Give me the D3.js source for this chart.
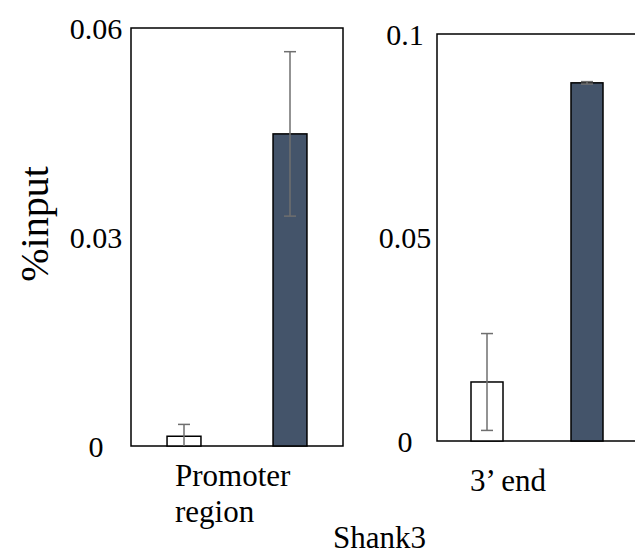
<!DOCTYPE html>
<html><head><meta charset="utf-8">
<script src="https://cdn.jsdelivr.net/npm/d3@7"></script>
<style>body{margin:0;background:#fff}</style>
</head><body><svg id="c" width="635" height="556"></svg>
<script>
const regions = ["Promoter region", "3’ end"];
const groups = ["control", "treated"];
const promoterMeans = [0.0014, 0.0448];
const promoterErrors = [0.0017, 0.0118];
const endMeans = [0.0145, 0.0880];
const endErrors = [0.0119, 0.0003];
const promoterTicks = [0, 0.03, 0.06];
const endTicks = [0, 0.05, 0.1];
const yLabel = "%input";
const geneLabel = "Shank3";
const colors = ["#ffffff", "#44546a"];

const svg = d3.select("#c");
function serif(sel) {
  return sel.attr("font-family", "Liberation Serif").style("font-family", "'Liberation Serif'");
}
const panels = [
  {name: regions[0], lines: ["Promoter", "region"], means: promoterMeans, errs: promoterErrors, ticks: promoterTicks,
   x0: 131, x1: 343, y0: 28, y1: 446, labelX: 96, catX: 175, catY: 486},
  {name: regions[1], lines: [regions[1]], means: endMeans, errs: endErrors, ticks: endTicks,
   x0: 437, x1: 637, y0: 34, y1: 441, labelX: 405, catX: 470, catY: 491}
];

panels.forEach(p => {
  const max = p.ticks[p.ticks.length - 1];
  const y = d3.scaleLinear().domain([0, max]).range([p.y1, p.y0]);
  const x = d3.scaleBand().domain(groups).range([p.x0, p.x1]).paddingInner(0.68).paddingOuter(0.34);
  svg.append("rect").attr("x", p.x0).attr("y", p.y0).attr("width", p.x1 - p.x0).attr("height", p.y1 - p.y0)
    .attr("fill", "none").attr("stroke", "#000").attr("stroke-width", 1.5);
  groups.forEach((d, i) => {
    svg.append("rect").attr("x", x(d)).attr("width", x.bandwidth())
      .attr("y", y(p.means[i])).attr("height", y(0) - y(p.means[i]))
      .attr("fill", colors[i]).attr("stroke", "#000").attr("stroke-width", 1.5);
  });
  groups.forEach((d, i) => {
    const cx = x(d) + x.bandwidth() / 2;
    const hi = y(p.means[i] + p.errs[i]);
    const lo = y(Math.max(0, p.means[i] - p.errs[i]));
    const ln = (x1, x2, y1, y2) => svg.append("line").attr("x1", x1).attr("x2", x2).attr("y1", y1).attr("y2", y2)
      .attr("stroke", "#6f6f6f").attr("stroke-width", 1.5);
    ln(cx, cx, hi, lo);
    ln(cx - 6, cx + 6, hi, hi);
    if (p.means[i] - p.errs[i] > 0) ln(cx - 6, cx + 6, lo, lo);
  });
  p.ticks.forEach(t => {
    serif(svg.append("text")).attr("x", p.labelX).attr("y", y(t)).attr("dy", "0.35em")
      .attr("text-anchor", "middle").attr("font-size", 30).text(d3.format("")(t));
  });
  p.lines.forEach((l, k) => {
    serif(svg.append("text")).attr("x", p.catX).attr("y", p.catY + k * 36).attr("font-size", 31).text(l);
  });
});

serif(svg.append("text")).attr("transform", "translate(48,224) rotate(-90)")
  .attr("text-anchor", "middle").attr("font-size", 40).text(yLabel);
serif(svg.append("text")).attr("x", 333).attr("y", 548).attr("font-size", 31).text(geneLabel);
</script></body></html>
